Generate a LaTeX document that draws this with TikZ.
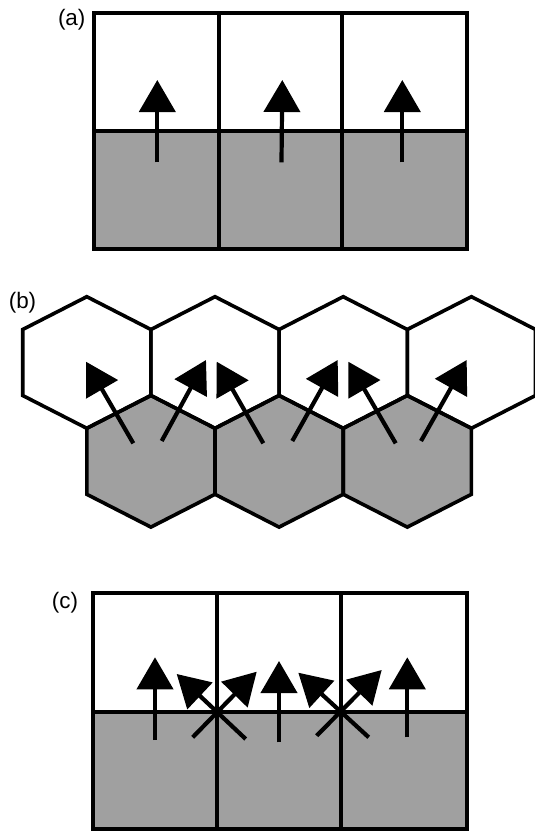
\documentclass[tikz,border=0pt]{standalone}
\usepackage{fontspec}
\setmainfont{Liberation Sans}
\usetikzlibrary{arrows.meta}
\definecolor{cellgray}{RGB}{160,160,160}
\begin{document}
\begin{tikzpicture}[x=1bp,y=-1bp,
  wall/.style={line width=3.9bp, line join=miter, line cap=rect},
  hexwall/.style={line width=3.6bp, line join=miter},
  vec/.style={line width=4.2bp, -{Triangle[length=32bp,width=36bp]}},
  lab/.style={inner sep=0pt, font=\fontsize{22.5}{26}\selectfont}]
\useasboundingbox (0,0) rectangle (535,833);

% ---------- panel (a)
\fill[cellgray] (94.3,131) rectangle (466.7,249.3);
\draw[wall] (94.3,12.7) rectangle (466.7,249.3);
\draw[wall] (94.3,131) -- (466.7,131);
\draw[wall] (219,12.7) -- (219,249.3);
\draw[wall] (342.3,12.7) -- (342.3,249.3);
\node[lab] (la) at (71.7,20) {(a)};
\coordinate (a1t) at (157.3,162.3); \coordinate (a1h) at (157.3,80);
\coordinate (a2t) at (281.5,162.3); \coordinate (a2h) at (282.3,80);
\coordinate (a3t) at (402.3,162.3); \coordinate (a3h) at (402.3,80);
\draw[vec] (a1t) -- (a1h);
\draw[vec] (a2t) -- (a2h);
\draw[vec] (a3t) -- (a3h);

% ---------- panel (b)
\def\hw{64.1}
\def\hs{33}
\def\hv{65.8}
\foreach \cx in {150.9,279.1,407.3}{
  \fill[cellgray] (\cx,461.3-\hv) -- (\cx+\hw,461.3-\hs) -- (\cx+\hw,461.3+\hs) -- (\cx,461.3+\hv) -- (\cx-\hw,461.3+\hs) -- (\cx-\hw,461.3-\hs) -- cycle;
}
\foreach \cx in {86.8,215.0,343.2,471.4}{
  \draw[hexwall] (\cx,362.5-\hv) -- (\cx+\hw,362.5-\hs) -- (\cx+\hw,362.5+\hs) -- (\cx,362.5+\hv) -- (\cx-\hw,362.5+\hs) -- (\cx-\hw,362.5-\hs) -- cycle;
}
\foreach \cx in {150.9,279.1,407.3}{
  \draw[hexwall] (\cx,461.3-\hv) -- (\cx+\hw,461.3-\hs) -- (\cx+\hw,461.3+\hs) -- (\cx,461.3+\hv) -- (\cx-\hw,461.3+\hs) -- (\cx-\hw,461.3-\hs) -- cycle;
}
\node[lab] (lb) at (22.5,303) {(b)};
\coordinate (b1lt) at (133.3,443.3); \coordinate (b1lh) at (86,361.7);
\coordinate (b1rt) at (161.7,441);   \coordinate (b1rh) at (206,360);
\coordinate (b2lt) at (263.3,443.3); \coordinate (b2lh) at (216.7,361.7);
\coordinate (b2rt) at (292.3,441);   \coordinate (b2rh) at (337.7,360);
\coordinate (b3lt) at (395.7,443.3); \coordinate (b3lh) at (348.3,361.7);
\coordinate (b3rt) at (421,441);     \coordinate (b3rh) at (466.7,360);
\draw[vec] (b1lt) -- (b1lh);
\draw[vec] (b1rt) -- (b1rh);
\draw[vec] (b2lt) -- (b2lh);
\draw[vec] (b2rt) -- (b2rh);
\draw[vec] (b3lt) -- (b3lh);
\draw[vec] (b3rt) -- (b3rh);

% ---------- panel (c)
\fill[cellgray] (93.3,712.3) rectangle (466.7,829.3);
\draw[wall] (93.3,592.7) rectangle (466.7,829.3);
\draw[wall] (93.3,712.3) -- (466.7,712.3);
\draw[wall] (216.7,592.7) -- (216.7,829.3);
\draw[wall] (341,592.7) -- (341,829.3);
\node[lab] (lc) at (65,603) {(c)};
\coordinate (c1t) at (155,740);     \coordinate (c1h) at (155,657.3);
\coordinate (c2t) at (279,742.3);   \coordinate (c2h) at (279,661);
\coordinate (c3t) at (407.3,737.3); \coordinate (c3h) at (407.3,657.3);
\coordinate (d1t) at (245.7,739);   \coordinate (d1h) at (176.7,674);
\coordinate (d2t) at (192.7,737.3); \coordinate (d2h) at (256.7,671.7);
\coordinate (d3t) at (368.7,737.3); \coordinate (d3h) at (298.3,672.7);
\coordinate (d4t) at (316.7,735.7); \coordinate (d4h) at (381.7,670);
\draw[vec] (c1t) -- (c1h);
\draw[vec] (c2t) -- (c2h);
\draw[vec] (c3t) -- (c3h);
\draw[vec] (d1t) -- (d1h);
\draw[vec] (d2t) -- (d2h);
\draw[vec] (d3t) -- (d3h);
\draw[vec] (d4t) -- (d4h);
\end{tikzpicture}
\end{document}
